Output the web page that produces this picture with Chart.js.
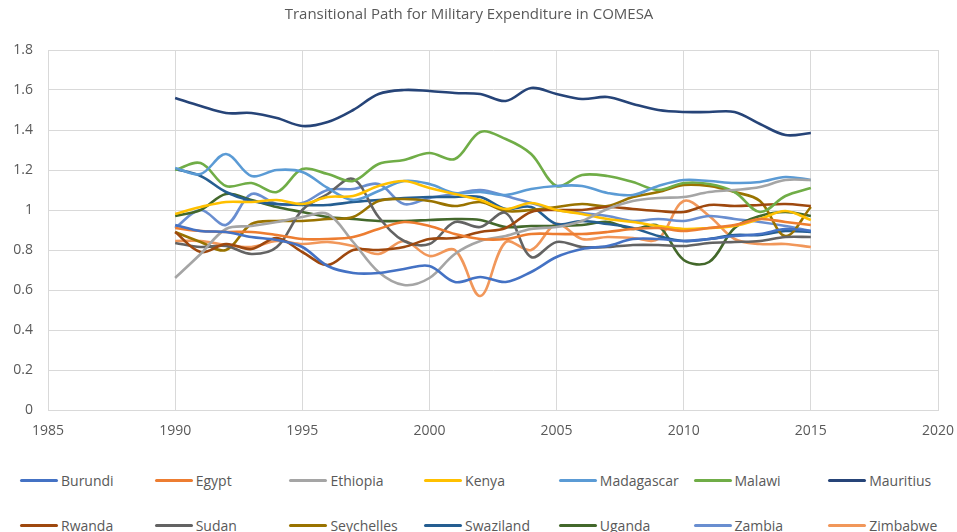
<!DOCTYPE html>
<html>
<head>
<meta charset="utf-8">
<script src="https://cdn.jsdelivr.net/npm/chart.js@4/dist/chart.umd.min.js"></script>
<style>
  body { margin: 0; background: #fff; font-family: "Open Sans", sans-serif; }
  #wrap { position: relative; width: 957px; height: 532px; overflow: hidden; }
  #box { position: absolute; left: 0; top: 0; width: 957px; height: 450px; }
  .leg { position: absolute; display: flex; align-items: center; height: 20px; font-size: 14px; color: #595959; white-space: nowrap; }
  .leg i { display: inline-block; width: 38px; height: 3px; border-radius: 2px; margin-right: 3px; }
</style>
</head>
<body>
<div id="wrap">
  <div id="box"><canvas id="chart"></canvas></div>
  <div id="legend"></div>
</div>
<script>
// years on the x axis, one value per year for each country
const years = [1990, 1991, 1992, 1993, 1994, 1995, 1996, 1997, 1998, 1999, 2000, 2001, 2002,
               2003, 2004, 2005, 2006, 2007, 2008, 2009, 2010, 2011, 2012, 2013, 2014, 2015];

const countries = ['Burundi', 'Egypt', 'Ethiopia', 'Kenya', 'Madagascar', 'Malawi', 'Mauritius',
                   'Rwanda', 'Sudan', 'Seychelles', 'Swaziland', 'Uganda', 'Zambia', 'Zimbabwe'];

const burundi    = [0.925,0.895,0.89,0.865,0.85,0.815,0.72,0.685,0.685,0.705,0.72,0.64,0.665,0.64,0.69,0.765,0.805,0.82,0.855,0.855,0.845,0.855,0.87,0.88,0.905,0.895];
const egypt      = [0.91,0.895,0.89,0.89,0.875,0.855,0.855,0.865,0.905,0.94,0.92,0.88,0.855,0.855,0.88,0.88,0.88,0.89,0.905,0.91,0.895,0.91,0.925,0.955,0.94,0.925];
const ethiopia   = [0.66,0.78,0.905,0.92,0.94,0.965,0.98,0.84,0.69,0.625,0.66,0.78,0.845,0.87,0.905,0.915,0.945,1.005,1.045,1.06,1.065,1.09,1.10,1.115,1.15,1.15];
const kenya      = [0.98,1.015,1.04,1.04,1.05,1.03,1.065,1.07,1.12,1.145,1.11,1.08,1.05,1.005,1.035,1.00,0.98,0.955,0.94,0.92,0.905,0.91,0.92,0.955,0.995,0.95];
const madagascar = [1.21,1.18,1.28,1.17,1.20,1.19,1.11,1.05,1.095,1.145,1.13,1.085,1.09,1.075,1.105,1.12,1.12,1.085,1.075,1.12,1.15,1.145,1.135,1.14,1.165,1.15];
const malawi     = [1.20,1.235,1.12,1.135,1.09,1.205,1.18,1.145,1.23,1.25,1.285,1.255,1.39,1.355,1.28,1.12,1.175,1.17,1.14,1.10,1.135,1.13,1.09,0.99,1.07,1.11];
const mauritius  = [1.56,1.52,1.485,1.485,1.46,1.42,1.44,1.50,1.58,1.60,1.595,1.585,1.58,1.545,1.61,1.58,1.555,1.565,1.53,1.50,1.49,1.49,1.49,1.43,1.375,1.385];
const rwanda     = [0.89,0.79,0.83,0.805,0.86,0.79,0.725,0.80,0.80,0.815,0.855,0.86,0.89,0.91,0.99,1.00,1.00,1.015,1.005,0.995,0.99,1.025,1.02,1.025,1.03,1.02];
const sudan      = [0.835,0.815,0.82,0.78,0.815,1.00,1.08,1.155,0.965,0.845,0.83,0.94,0.915,0.985,0.765,0.84,0.815,0.815,0.825,0.825,0.82,0.835,0.84,0.845,0.865,0.865];
const seychelles = [0.89,0.84,0.80,0.93,0.945,0.945,0.955,0.965,1.045,1.055,1.045,1.02,1.04,0.995,1.00,1.015,1.03,1.02,1.065,1.09,1.125,1.12,1.09,1.045,0.87,1.015];
const swaziland  = [1.205,1.17,1.09,1.045,1.03,1.025,1.025,1.04,1.05,1.06,1.065,1.065,1.065,1.005,1.015,0.93,0.945,0.93,0.91,0.87,0.845,0.855,0.875,0.875,0.895,0.89];
const uganda     = [0.97,1.00,1.08,1.05,1.015,0.99,0.965,0.955,0.945,0.945,0.95,0.955,0.95,0.915,0.92,0.92,0.925,0.94,0.905,0.92,0.75,0.74,0.91,0.97,0.99,0.97];
const zambia     = [0.91,1.00,0.925,1.08,1.03,1.035,1.10,1.105,1.13,1.03,1.06,1.08,1.10,1.07,1.035,1.00,0.985,0.97,0.945,0.955,0.945,0.97,0.955,0.94,0.92,0.895];
const zimbabwe   = [0.845,0.845,0.825,0.815,0.845,0.83,0.84,0.82,0.78,0.845,0.77,0.80,0.57,0.84,0.80,0.93,0.855,0.865,0.86,0.855,1.045,0.97,0.855,0.83,0.83,0.815];

const seriesValues = [burundi, egypt, ethiopia, kenya, madagascar, malawi, mauritius,
                      rwanda, sudan, seychelles, swaziland, uganda, zambia, zimbabwe];

const xTicks = [1985, 1990, 1995, 2000, 2005, 2010, 2015, 2020];
const yTicks = [0, 0.2, 0.4, 0.6, 0.8, 1, 1.2, 1.4, 1.6, 1.8];

// Excel default palette
const colors = ['#4472C4', '#ED7D31', '#A5A5A5', '#FFC000', '#5B9BD5', '#70AD47', '#264478',
                '#9E480E', '#636363', '#997300', '#255E91', '#43682B', '#698ED0', '#F1975A'];

const textColor = '#595959';
const gridColor = '#d9d9d9';
const fontFamily = '"Open Sans", sans-serif';

const datasets = countries.map((name, i) => ({
    label: name,
    data: years.map((yr, j) => ({ x: yr, y: seriesValues[i][j] })),
    borderColor: colors[i],
    backgroundColor: colors[i],
    borderWidth: 2.6,
    pointRadius: 0,
    tension: 0.35,
    fill: false
}));

const chart = new Chart(document.getElementById('chart'), {
    type: 'line',
    data: { datasets: datasets },
    options: {
        responsive: true,
        maintainAspectRatio: false,
        animation: false,
        layout: { padding: { left: 0, right: 19, top: 0, bottom: 0 } },
        plugins: {
            legend: { display: false },
            tooltip: { enabled: false },
            title: {
                display: true,
                text: 'Transitional Path for Military Expenditure in COMESA',
                color: textColor,
                font: { family: fontFamily, size: 15, weight: 'normal' },
                padding: { top: 6, bottom: 26 }
            }
        },
        scales: {
            x: {
                type: 'linear',
                min: xTicks[0],
                max: xTicks[xTicks.length - 1],
                afterBuildTicks: scale => { scale.ticks = xTicks.map(v => ({ value: v })); },
                ticks: {
                    color: textColor,
                    font: { family: fontFamily, size: 14 },
                    padding: 13,
                    maxRotation: 0,
                    callback: v => String(v)
                },
                grid: { color: gridColor, drawTicks: false },
                border: { color: gridColor },
                afterFit: scale => { scale.height = 40; scale.paddingRight = 0; scale.paddingLeft = 0; }
            },
            y: {
                min: 0,
                max: 1.8,
                afterBuildTicks: scale => { scale.ticks = yTicks.map(v => ({ value: v })); },
                ticks: {
                    color: textColor,
                    font: { family: fontFamily, size: 14 },
                    padding: 15,
                    callback: v => String(+v.toFixed(1))
                },
                grid: { color: gridColor, drawTicks: false },
                border: { color: gridColor },
                afterFit: scale => { scale.width = 48; }
            }
        }
    }
});

// legend laid out in a 7-column grid, two rows
const legendEl = document.getElementById('legend');
countries.forEach((name, i) => {
    const item = document.createElement('div');
    item.className = 'leg';
    item.style.left = (20 + 134.7 * (i % 7)) + 'px';
    item.style.top = (i < 7 ? 470 : 515) + 'px';
    item.innerHTML = '<i style="background:' + colors[i] + '"></i>' + name;
    legendEl.appendChild(item);
});
</script>
</body>
</html>
